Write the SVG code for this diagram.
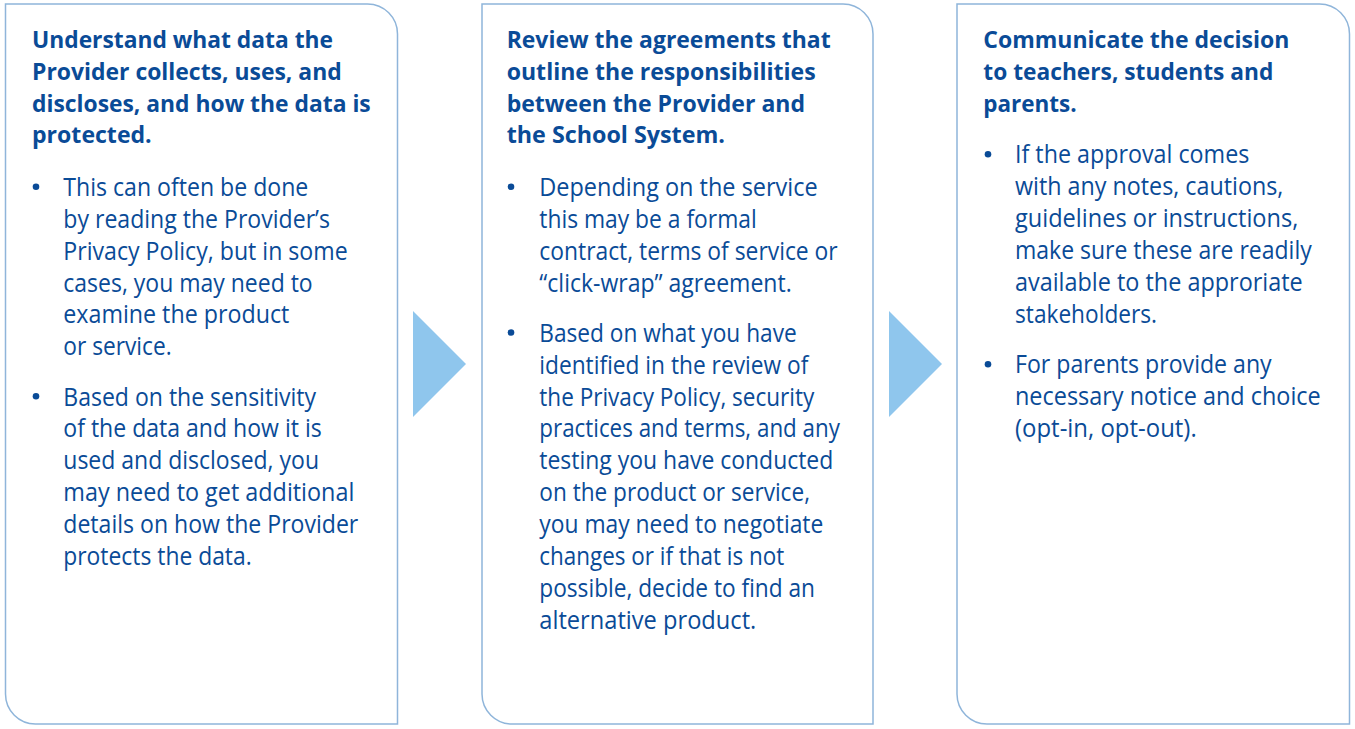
<svg xmlns="http://www.w3.org/2000/svg" width="1355" height="729" viewBox="0 0 1355 729">
<style>
.box{fill:#ffffff;stroke:#8fb5da;stroke-width:1.5}
.arrow{fill:#8fc6ed}
.h{font-family:"Open Sans","Noto Sans",sans-serif;font-weight:700;font-size:23px;fill:#0a4b97}
.b{font-family:"Open Sans","Noto Sans",sans-serif;font-weight:400;font-size:25px;fill:#0a4b97}
.dot{fill:#0a4b97}
</style>
<rect width="1355" height="729" fill="#ffffff"/>
<g id="step1">
<path class="box" d="M5.5,4 H367.5 A30,30 0 0 1 397.5,34 V724 H35.5 A30,30 0 0 1 5.5,694 Z"/>
<text class="h" x="32" y="48" textLength="301" lengthAdjust="spacingAndGlyphs">Understand what data the</text>
<text class="h" x="32" y="79.8" textLength="309.7" lengthAdjust="spacingAndGlyphs">Provider collects, uses, and</text>
<text class="h" x="32" y="111.6" textLength="338.7" lengthAdjust="spacingAndGlyphs">discloses, and how the data is</text>
<text class="h" x="32" y="143.4" textLength="119.7" lengthAdjust="spacingAndGlyphs">protected.</text>
<circle class="dot" cx="36" cy="186.7" r="3.3"/>
<text class="b" x="63.3" y="195.8" textLength="245" lengthAdjust="spacingAndGlyphs">This can often be done</text>
<text class="b" x="63.3" y="227.7" textLength="266.7" lengthAdjust="spacingAndGlyphs">by reading the Provider’s</text>
<text class="b" x="63.3" y="259.6" textLength="284.4" lengthAdjust="spacingAndGlyphs">Privacy Policy, but in some</text>
<text class="b" x="63.3" y="291.5" textLength="249.4" lengthAdjust="spacingAndGlyphs">cases, you may need to</text>
<text class="b" x="63.3" y="323.4" textLength="226" lengthAdjust="spacingAndGlyphs">examine the product</text>
<text class="b" x="63.3" y="355.3" textLength="108.4" lengthAdjust="spacingAndGlyphs">or service.</text>
<circle class="dot" cx="36" cy="396.3" r="3.3"/>
<text class="b" x="63.3" y="405.5" textLength="252.7" lengthAdjust="spacingAndGlyphs">Based on the sensitivity</text>
<text class="b" x="63.3" y="437.4" textLength="258.4" lengthAdjust="spacingAndGlyphs">of the data and how it is</text>
<text class="b" x="63.3" y="469.3" textLength="255.7" lengthAdjust="spacingAndGlyphs">used and disclosed, you</text>
<text class="b" x="63.3" y="501.2" textLength="291" lengthAdjust="spacingAndGlyphs">may need to get additional</text>
<text class="b" x="63.3" y="533.1" textLength="295" lengthAdjust="spacingAndGlyphs">details on how the Provider</text>
<text class="b" x="63.3" y="565" textLength="188.4" lengthAdjust="spacingAndGlyphs">protects the data.</text>
</g>
<g id="step2">
<path class="box" d="M482,4 H843 A30,30 0 0 1 873,34 V724 H512 A30,30 0 0 1 482,694 Z"/>
<text class="h" x="506.7" y="48" textLength="324" lengthAdjust="spacingAndGlyphs">Review the agreements that</text>
<text class="h" x="506.7" y="79.8" textLength="309" lengthAdjust="spacingAndGlyphs">outline the responsibilities</text>
<text class="h" x="506.7" y="111.6" textLength="298.3" lengthAdjust="spacingAndGlyphs">between the Provider and</text>
<text class="h" x="506.7" y="143.4" textLength="218.3" lengthAdjust="spacingAndGlyphs">the School System.</text>
<circle class="dot" cx="511" cy="186.7" r="3.3"/>
<text class="b" x="539.3" y="195.8" textLength="278.4" lengthAdjust="spacingAndGlyphs">Depending on the service</text>
<text class="b" x="539.3" y="227.7" textLength="217.4" lengthAdjust="spacingAndGlyphs">this may be a formal</text>
<text class="b" x="539.3" y="259.6" textLength="298.4" lengthAdjust="spacingAndGlyphs">contract, terms of service or</text>
<text class="b" x="539.3" y="291.5" textLength="252.4" lengthAdjust="spacingAndGlyphs">“click-wrap” agreement.</text>
<circle class="dot" cx="511" cy="332.5" r="3.3"/>
<text class="b" x="539.3" y="341.7" textLength="257.4" lengthAdjust="spacingAndGlyphs">Based on what you have</text>
<text class="b" x="539.3" y="373.6" textLength="269" lengthAdjust="spacingAndGlyphs">identified in the review of</text>
<text class="b" x="539.3" y="405.5" textLength="275" lengthAdjust="spacingAndGlyphs">the Privacy Policy, security</text>
<text class="b" x="539.3" y="437.4" textLength="300.7" lengthAdjust="spacingAndGlyphs">practices and terms, and any</text>
<text class="b" x="539.3" y="469.3" textLength="294" lengthAdjust="spacingAndGlyphs">testing you have conducted</text>
<text class="b" x="539.3" y="501.2" textLength="270.7" lengthAdjust="spacingAndGlyphs">on the product or service,</text>
<text class="b" x="539.3" y="533.1" textLength="284" lengthAdjust="spacingAndGlyphs">you may need to negotiate</text>
<text class="b" x="539.3" y="565" textLength="245" lengthAdjust="spacingAndGlyphs">changes or if that is not</text>
<text class="b" x="539.3" y="596.9" textLength="275.7" lengthAdjust="spacingAndGlyphs">possible, decide to find an</text>
<text class="b" x="539.3" y="628.8" textLength="217" lengthAdjust="spacingAndGlyphs">alternative product.</text>
</g>
<g id="step3">
<path class="box" d="M957,4 H1319.5 A30,30 0 0 1 1349.5,34 V724 H987 A30,30 0 0 1 957,694 Z"/>
<text class="h" x="983.3" y="48" textLength="306" lengthAdjust="spacingAndGlyphs">Communicate the decision</text>
<text class="h" x="983.3" y="79.8" textLength="290" lengthAdjust="spacingAndGlyphs">to teachers, students and</text>
<text class="h" x="983.3" y="111.6" textLength="93.4" lengthAdjust="spacingAndGlyphs">parents.</text>
<circle class="dot" cx="988" cy="154.2" r="3.3"/>
<text class="b" x="1015" y="163.3" textLength="234.3" lengthAdjust="spacingAndGlyphs">If the approval comes</text>
<text class="b" x="1015" y="195.2" textLength="268.3" lengthAdjust="spacingAndGlyphs">with any notes, cautions,</text>
<text class="b" x="1015" y="227.1" textLength="283.3" lengthAdjust="spacingAndGlyphs">guidelines or instructions,</text>
<text class="b" x="1015" y="259" textLength="296.7" lengthAdjust="spacingAndGlyphs">make sure these are readily</text>
<text class="b" x="1015" y="290.9" textLength="287.7" lengthAdjust="spacingAndGlyphs">available to the approriate</text>
<text class="b" x="1015" y="322.8" textLength="142" lengthAdjust="spacingAndGlyphs">stakeholders.</text>
<circle class="dot" cx="988" cy="364.3" r="3.3"/>
<text class="b" x="1015" y="373.3" textLength="256.7" lengthAdjust="spacingAndGlyphs">For parents provide any</text>
<text class="b" x="1015" y="405.2" textLength="305.7" lengthAdjust="spacingAndGlyphs">necessary notice and choice</text>
<text class="b" x="1015" y="437.1" textLength="181.7" lengthAdjust="spacingAndGlyphs">(opt-in, opt-out).</text>
</g>
<g id="connectors">
<polygon class="arrow" points="413,311 466,364 413,417"/>
<polygon class="arrow" points="889,311 942,364 889,417"/>
</g>
</svg>
